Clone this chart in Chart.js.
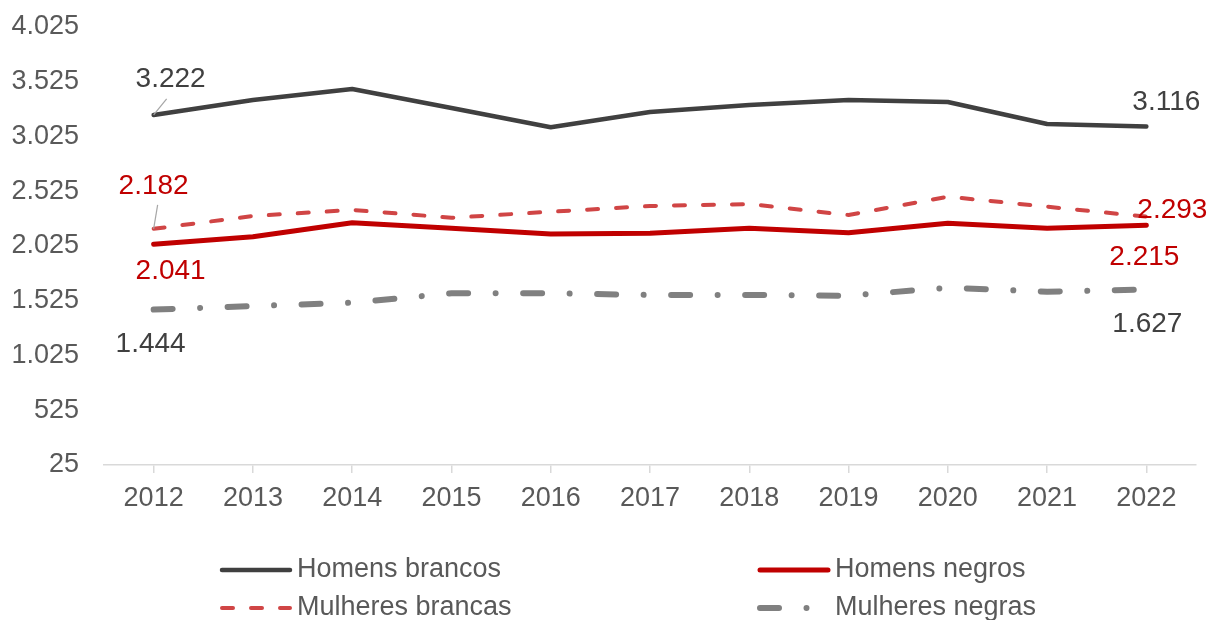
<!DOCTYPE html>
<html>
<head>
<meta charset="utf-8">
<script src="https://cdn.jsdelivr.net/npm/chart.js@4.4.1/dist/chart.umd.min.js"></script>
<style>
  html, body { margin: 0; padding: 0; background: #fff; }
  #wrap { width: 1216px; height: 620px; }
</style>
</head>
<body>
<div id="wrap"><canvas id="salarioChart" width="1216" height="620"></canvas></div>
<script>
// data
var years = ['2012', '2013', '2014', '2015', '2016', '2017', '2018', '2019', '2020', '2021', '2022'];
var homensBrancos = [3222, 3358, 3459, 3285, 3110, 3249, 3313, 3358, 3340, 3139, 3116];
var homensNegros = [2041, 2110, 2238, 2187, 2135, 2141, 2187, 2147, 2232, 2187, 2215];
var mulheresBrancas = [2182, 2299, 2354, 2283, 2338, 2390, 2408, 2308, 2475, 2384, 2293];
var mulheresNegras = [1444, 1477, 1507, 1593, 1593, 1578, 1578, 1571, 1644, 1608, 1627];
var yTicks = [25, 525, 1025, 1525, 2025, 2525, 3025, 3525, 4025];

var FONT = '"Liberation Sans", Arial, sans-serif';

function fmt(v) {
    return String(v).replace(/\B(?=(\d{3})+(?!\d))/g, '.');
}

// label offsets for first / last point, plus optional leader line
var labelStyle = [
    { color: '#404040', first: [17, -36], last: [20, -24], leader: true },
    { color: '#c00000', first: [17, 27], last: [-2, 32], leader: false },
    { color: '#c00000', first: [0, -43], last: [26, -6], leader: true },
    { color: '#404040', first: [-3, 35], last: [1, 35], leader: false }
];

var endLabels = {
    id: 'endLabels',
    afterDatasetsDraw: function(chart) {
        var ctx = chart.ctx;
        ctx.save();
        ctx.font = '28px ' + FONT;
        ctx.textAlign = 'center';
        ctx.textBaseline = 'middle';
        chart.data.datasets.forEach(function(ds, i) {
            var meta = chart.getDatasetMeta(i);
            var st = labelStyle[i];
            [0, ds.data.length - 1].forEach(function(idx) {
                var pt = meta.data[idx];
                var off = idx === 0 ? st.first : st.last;
                var lx = pt.x + off[0], ly = pt.y + off[1];
                if (idx === 0 && st.leader) {
                    ctx.strokeStyle = '#a6a6a6';
                    ctx.lineWidth = 1.2;
                    ctx.beginPath();
                    ctx.moveTo(pt.x, pt.y);
                    if (off[0] !== 0) {
                        ctx.lineTo(pt.x + 13, pt.y - 16);
                    } else {
                        ctx.lineTo(pt.x + 4, pt.y - 24);
                    }
                    ctx.stroke();
                }
                ctx.fillStyle = st.color;
                ctx.fillText(fmt(ds.data[idx]), lx, ly);
            });
        });
        ctx.restore();
    }
};

// two-column legend under the axis
var bottomLegend = {
    id: 'bottomLegend',
    afterDraw: function(chart) {
        var ctx = chart.ctx;
        var cols = [220, 758];
        var rows = [570, 608];
        ctx.save();
        ctx.font = '27px ' + FONT;
        ctx.textBaseline = 'middle';
        ctx.textAlign = 'left';
        chart.data.datasets.forEach(function(ds, k) {
            var x = cols[k % 2], y = rows[Math.floor(k / 2)];
            ctx.save();
            ctx.strokeStyle = ds.borderColor;
            ctx.lineWidth = ds.borderWidth;
            ctx.lineCap = ds.borderCapStyle || 'butt';
            ctx.setLineDash(ds.borderDash || []);
            ctx.beginPath();
            ctx.moveTo(x + 2, y);
            ctx.lineTo(x + 70, y);
            ctx.stroke();
            ctx.restore();
            ctx.fillStyle = '#595959';
            ctx.fillText(ds.label, x + 77, y);
        });
        ctx.restore();
    }
};

var ctx = document.getElementById('salarioChart').getContext('2d');
var salarioChart = new Chart(ctx, {
    type: 'line',
    data: {
        labels: years,
        datasets: [{
            label: 'Homens brancos',
            data: homensBrancos,
            borderColor: '#404040',
            borderWidth: 4.5,
            borderCapStyle: 'round'
        }, {
            label: 'Homens negros',
            data: homensNegros,
            borderColor: '#c00000',
            borderWidth: 5,
            borderCapStyle: 'round'
        }, {
            label: 'Mulheres brancas',
            data: mulheresBrancas,
            borderColor: '#d04545',
            borderWidth: 4,
            borderCapStyle: 'round',
            borderDash: [11, 18]
        }, {
            label: 'Mulheres negras',
            data: mulheresNegras,
            borderColor: '#808080',
            borderWidth: 6,
            borderCapStyle: 'round',
            borderDash: [19, 27.5, 0.01, 27.5]
        }]
    },
    options: {
        responsive: false,
        animation: false,
        devicePixelRatio: 1,
        elements: {
            point: { radius: 0, hoverRadius: 0 },
            line: { tension: 0, borderJoinStyle: 'round', fill: false }
        },
        layout: {
            padding: { left: 0, right: 20, top: 27, bottom: 105 }
        },
        plugins: {
            legend: { display: false },
            tooltip: { enabled: false }
        },
        scales: {
            x: {
                offset: true,
                grid: {
                    display: true,
                    drawOnChartArea: false,
                    drawTicks: true,
                    tickLength: 8,
                    color: '#d9d9d9',
                    lineWidth: 1.5
                },
                border: { display: true, color: '#d9d9d9', width: 1.5 },
                ticks: {
                    color: '#595959',
                    font: { family: FONT, size: 27 },
                    padding: 9,
                    maxRotation: 0
                },
                afterFit: function(s) { s.height = 50; }
            },
            y: {
                min: 25,
                max: 4025,
                grid: { display: false },
                border: { display: false },
                afterBuildTicks: function(s) {
                    s.ticks = yTicks.map(function(v) { return { value: v }; });
                },
                afterFit: function(s) {
                    s.width = 104;
                    s.paddingTop = 0;
                    s.paddingBottom = 0;
                },
                ticks: {
                    color: '#595959',
                    font: { family: FONT, size: 27 },
                    padding: 17,
                    callback: function(v) { return fmt(v); }
                }
            }
        }
    },
    plugins: [endLabels, bottomLegend]
});
</script>
</body>
</html>
